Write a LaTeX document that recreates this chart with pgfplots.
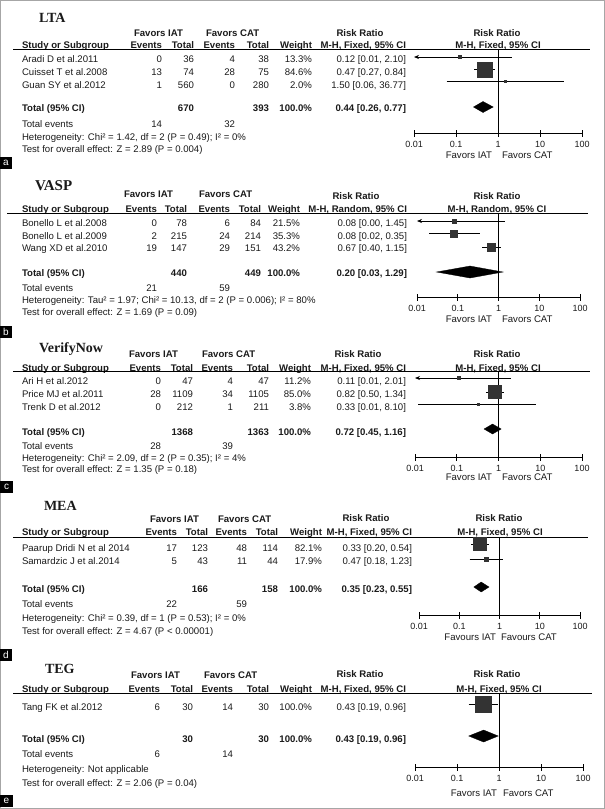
\documentclass[border=0pt]{standalone}
\usepackage{fontspec}
\setmainfont{Liberation Sans}
\newfontfamily\serifttl{Liberation Serif}
\usepackage{pgfplots}
\pgfplotsset{compat=1.18}
\usetikzlibrary{arrows.meta}

\definecolor{txt}{HTML}{1A1A1A}
\definecolor{boxc}{HTML}{333333}

\newcommand\fs{\fontsize{9.6bp}{11bp}\selectfont}
\newcommand\ttl{\serifttl\bfseries\fontsize{14bp}{16bp}\selectfont}

% text helpers: x, y (vertical centre of the line in px), text
\newcommand\tl[3]{\node[anchor=base west] at (#1,#2+3.4) {#3};}
\newcommand\tr[3]{\node[anchor=base east] at (#1,#2+3.4) {#3};}
\newcommand\tc[3]{\node[anchor=base] at (#1,#2+3.4) {#3};}

\def\cS{22}
\newcommand\setcols[6]{\def\cEa{#1}\def\cTa{#2}\def\cEb{#3}\def\cTb{#4}\def\cW{#5}\def\cCI{#6}}
\newcommand\row[8]{\tl{\cS}{#1}{#2}\tr{\cEa}{#1}{#3}\tr{\cTa}{#1}{#4}\tr{\cEb}{#1}{#5}%
  \tr{\cTb}{#1}{#6}\tr{\cW}{#1}{#7}\tr{\cCI}{#1}{#8}}
\newcommand\hdr[3]{\row{#1}{\bfseries Study or Subgroup}{\bfseries Events}{\bfseries Total}%
  {\bfseries Events}{\bfseries Total}{\bfseries Weight}{\bfseries #2}\tc{#3}{#1}{\bfseries #2}}
\newcommand\plabel[3]{\fill[black] (0,#2) rectangle (#3,#2+12);
  \node[text=white, font=\fontsize{10bp}{11bp}\selectfont] at (#3/2,#2+6) {#1};}

\tikzset{
  px/.style={x=1bp, y=-1bp},
  rrci/.style={black, line width=0.7bp},
  rrref/.style={black, line width=0.9bp},
  rrbox/.style={only marks, mark=square*, mark options={fill=boxc, draw=boxc}},
  rrdiam/.style={fill=black, draw=black, line width=0.3bp},
  rrarr/.style={rrci, arrows={Stealth[length=5bp, width=4bp]-}},
}
\pgfplotsset{rraxis/.style={
  scale only axis, anchor=south west, clip=false,
  xmin=0.01, xmax=100,
  axis x line=bottom, axis y line=none, ytick=\empty,
  axis line style={-, black, line width=0.8bp},
  xtick={0.01,0.1,1,10,100}, xticklabels={0.01,0.1,1,10,100}, xminorticks=false,
  tick align=center, major tick length=7bp, tick style={black, line width=0.8bp},
  xticklabel style={font=\fontsize{9bp}{10bp}\selectfont, text=txt, inner sep=0pt,
    anchor=north, yshift=-5bp},
}}

\begin{document}
\begin{tikzpicture}[every node/.style={inner sep=0pt, outer sep=0pt, text=txt, font=\fs}]
\begin{scope}[px]
\useasboundingbox (0,0) rectangle (605,809);
\draw[gray!70, line width=1.2bp] (0.6,0.6) rectangle (604.4,808.4);

% ===== a: LTA
\node[anchor=base west, font=\ttl] at (39,23) {LTA};
\tl{134}{33}{\bfseries Favors IAT}\tl{206}{33}{\bfseries Favors CAT}
\tc{360}{33}{\bfseries Risk Ratio}\tc{497}{33}{\bfseries Risk Ratio}
\setcols{162}{194}{235}{269}{312}{406}
\hdr{45}{M-H, Fixed, 95\% CI}{498}
\draw[line width=1bp, black] (13,50) -- (590,50);
\row{59}{Aradi D et al.2011}{0}{36}{4}{38}{13.3\%}{0.12 [0.01, 2.10]}
\row{72}{Cuisset T et al.2008}{13}{74}{28}{75}{84.6\%}{0.47 [0.27, 0.84]}
\row{85}{Guan SY et al.2012}{1}{560}{0}{280}{2.0\%}{1.50 [0.06, 36.77]}
\row{108}{\bfseries Total (95\% CI)}{}{\bfseries 670}{}{\bfseries 393}{\bfseries 100.0\%}{\bfseries 0.44 [0.26, 0.77]}
\row{124}{Total events}{14}{}{32}{}{}{}
\tl{\cS}{137}{Heterogeneity: Chi² = 1.42, df = 2 (P = 0.49); I² = 0\%}
\tl{\cS}{149}{Test for overall effect: Z = 2.89 (P = 0.004)}
\tr{492}{155}{Favors IAT}\tl{502}{155}{Favors CAT}
\plabel{a}{157}{12}

% ===== b: VASP
\node[anchor=base west, font=\ttl\fontsize{15bp}{17bp}\selectfont] at (35,190) {VASP};
\tl{124}{194}{\bfseries Favors IAT}\tl{199}{194}{\bfseries Favors CAT}
\tc{356}{196}{\bfseries Risk Ratio}\tc{497}{196}{\bfseries Risk Ratio}
\setcols{157}{187}{230}{261}{300}{407}
\hdr{209}{M-H, Random, 95\% CI}{497}
\draw[line width=1bp, black] (7,213) -- (588,213);
\row{223}{Bonello L et al.2008}{0}{78}{6}{84}{21.5\%}{0.08 [0.00, 1.45]}
\row{236}{Bonello L et al.2009}{2}{215}{24}{214}{35.3\%}{0.08 [0.02, 0.35]}
\row{248}{Wang XD et al.2010}{19}{147}{29}{151}{43.2\%}{0.67 [0.40, 1.15]}
\row{273}{\bfseries Total (95\% CI)}{}{\bfseries 440}{}{\bfseries 449}{\bfseries 100.0\%}{\bfseries 0.20 [0.03, 1.29]}
\row{288}{Total events}{21}{}{59}{}{}{}
\tl{\cS}{300}{Heterogeneity: Tau² = 1.97; Chi² = 10.13, df = 2 (P = 0.006); I² = 80\%}
\tl{\cS}{312}{Test for overall effect: Z = 1.69 (P = 0.09)}
\tr{492}{319}{Favors IAT}\tl{502}{319}{Favors CAT}
\plabel{b}{326}{12}

% ===== c: VerifyNow
\node[anchor=base west, font=\ttl] at (39,352) {VerifyNow};
\tl{129}{354}{\bfseries Favors IAT}\tl{202}{354}{\bfseries Favors CAT}
\tc{358}{354}{\bfseries Risk Ratio}\tc{497}{354}{\bfseries Risk Ratio}
\setcols{161}{193}{233}{269}{311}{406}
\hdr{368}{M-H, Fixed, 95\% CI}{498}
\draw[line width=1bp, black] (13,371) -- (590,371);
\row{381}{Ari H et al.2012}{0}{47}{4}{47}{11.2\%}{0.11 [0.01, 2.01]}
\row{394}{Price MJ et al.2011}{28}{1109}{34}{1105}{85.0\%}{0.82 [0.50, 1.34]}
\row{407}{Trenk D et al.2012}{0}{212}{1}{211}{3.8\%}{0.33 [0.01, 8.10]}
\row{432}{\bfseries Total (95\% CI)}{}{\bfseries 1368}{}{\bfseries 1363}{\bfseries 100.0\%}{\bfseries 0.72 [0.45, 1.16]}
\row{446}{Total events}{28}{}{39}{}{}{}
\tl{\cS}{458}{Heterogeneity: Chi² = 2.09, df = 2 (P = 0.35); I² = 4\%}
\tl{\cS}{469}{Test for overall effect: Z = 1.35 (P = 0.18)}
\tr{492}{477}{Favors IAT}\tl{502}{477}{Favors CAT}
\plabel{c}{481}{13}

% ===== d: MEA
\node[anchor=base west, font=\ttl] at (44,510) {MEA};
\tl{150}{519}{\bfseries Favors IAT}\tl{218}{519}{\bfseries Favors CAT}
\tc{366}{518}{\bfseries Risk Ratio}\tc{499}{518}{\bfseries Risk Ratio}
\setcols{177}{208}{247}{278}{322}{412}
\hdr{532}{M-H, Fixed, 95\% CI}{500}
\draw[line width=1bp, black] (13,537) -- (588,537);
\row{548}{Paarup Dridi N et al 2014}{17}{123}{48}{114}{82.1\%}{0.33 [0.20, 0.54]}
\row{561}{Samardzic J et al.2014}{5}{43}{11}{44}{17.9\%}{0.47 [0.18, 1.23]}
\row{589}{\bfseries Total (95\% CI)}{}{\bfseries 166}{}{\bfseries 158}{\bfseries 100.0\%}{\bfseries 0.35 [0.23, 0.55]}
\row{604}{Total events}{22}{}{59}{}{}{}
\tl{\cS}{618}{Heterogeneity: Chi² = 0.39, df = 1 (P = 0.53); I² = 0\%}
\tl{\cS}{631}{Test for overall effect: Z = 4.67 (P < 0.00001)}
\tr{496}{637}{Favours IAT}\tl{501}{637}{Favours CAT}
\plabel{d}{649}{12}

% ===== e: TEG
\node[anchor=base west, font=\ttl] at (45,673) {TEG};
\tl{131}{675}{\bfseries Favors IAT}\tl{204}{675}{\bfseries Favors CAT}
\tc{360}{674}{\bfseries Risk Ratio}\tc{497}{674}{\bfseries Risk Ratio}
\setcols{160}{193}{233}{269}{312}{406}
\hdr{689}{M-H, Fixed, 95\% CI}{499}
\draw[line width=1bp, black] (13,693) -- (592,693);
\row{707}{Tang FK et al.2012}{6}{30}{14}{30}{100.0\%}{0.43 [0.19, 0.96]}
\row{739}{\bfseries Total (95\% CI)}{}{\bfseries 30}{}{\bfseries 30}{\bfseries 100.0\%}{\bfseries 0.43 [0.19, 0.96]}
\row{754}{Total events}{6}{}{14}{}{}{}
\tl{\cS}{769}{Heterogeneity: Not applicable}
\tl{\cS}{783}{Test for overall effect: Z = 2.06 (P = 0.04)}
\tr{497}{793}{Favors IAT}\tl{503}{793}{Favors CAT}
\plabel{e}{795}{13}
\end{scope}

% ----- forest plots (x: risk ratio, y: row position in px from the top, negated)
\begin{semilogxaxis}[rraxis, at={(414bp,-133bp)}, width=168bp, height=83bp, ymin=-133, ymax=-50]
  \addplot[rrref] coordinates {(1,-50) (1,-133)};
  \addplot[rrarr] coordinates {(0.01,-57) (2.10,-57)};
  \addplot[rrbox, mark size=1.6] coordinates {(0.12,-57)};
  \addplot[rrci] coordinates {(0.27,-69.5) (0.84,-69.5)};
  \addplot[rrbox, mark size=7.5] coordinates {(0.47,-69.5)};
  \addplot[rrci] coordinates {(0.06,-81.5) (36.77,-81.5)};
  \addplot[rrbox, mark size=1] coordinates {(1.50,-81.5)};
  \addplot[rrdiam] coordinates {(0.26,-107) (0.44,-101.5) (0.77,-107) (0.44,-112.5)} --cycle;
\end{semilogxaxis}

\begin{semilogxaxis}[rraxis, at={(417bp,-297bp)}, width=163bp, height=84bp, ymin=-297, ymax=-213]
  \addplot[rrref] coordinates {(1,-213) (1,-297)};
  \addplot[rrarr] coordinates {(0.01,-221) (1.45,-221)};
  \addplot[rrbox, mark size=2] coordinates {(0.08,-221)};
  \addplot[rrci] coordinates {(0.02,-233.5) (0.35,-233.5)};
  \addplot[rrbox, mark size=3.5] coordinates {(0.08,-233.5)};
  \addplot[rrci] coordinates {(0.40,-247) (1.15,-247)};
  \addplot[rrbox, mark size=4] coordinates {(0.67,-247)};
  \addplot[rrdiam] coordinates {(0.03,-272) (0.20,-266) (1.29,-272) (0.20,-278)} --cycle;
\end{semilogxaxis}

\begin{semilogxaxis}[rraxis, at={(415bp,-457bp)}, width=167bp, height=86bp, ymin=-457, ymax=-371]
  \addplot[rrref] coordinates {(1,-371) (1,-457)};
  \addplot[rrarr] coordinates {(0.01,-378) (2.01,-378)};
  \addplot[rrbox, mark size=1.6] coordinates {(0.11,-378)};
  \addplot[rrci] coordinates {(0.50,-392) (1.34,-392)};
  \addplot[rrbox, mark size=6.5] coordinates {(0.82,-392)};
  \addplot[rrci] coordinates {(0.012,-404) (8.10,-404)};
  \addplot[rrbox, mark size=1.2] coordinates {(0.33,-404)};
  \addplot[rrdiam] coordinates {(0.45,-429) (0.72,-424) (1.16,-429) (0.72,-434)} --cycle;
\end{semilogxaxis}

\begin{semilogxaxis}[rraxis, at={(419bp,-615bp)}, width=161bp, height=78bp, ymin=-615, ymax=-537]
  \addplot[rrref] coordinates {(1,-537) (1,-615)};
  \addplot[rrci] coordinates {(0.20,-544) (0.54,-544)};
  \addplot[rrbox, mark size=6.5] coordinates {(0.33,-544)};
  \addplot[rrci] coordinates {(0.18,-559) (1.23,-559)};
  \addplot[rrbox, mark size=2] coordinates {(0.47,-559)};
  \addplot[rrdiam] coordinates {(0.23,-587) (0.35,-582) (0.55,-587) (0.35,-592)} --cycle;
\end{semilogxaxis}

\begin{semilogxaxis}[rraxis, at={(415bp,-767bp)}, width=168bp, height=74bp, ymin=-767, ymax=-693]
  \addplot[rrref] coordinates {(1,-693) (1,-767)};
  \addplot[rrci] coordinates {(0.19,-704.5) (0.96,-704.5)};
  \addplot[rrbox, mark size=8] coordinates {(0.43,-704.5)};
  \addplot[rrdiam] coordinates {(0.19,-736) (0.43,-730) (0.96,-736) (0.43,-742)} --cycle;
\end{semilogxaxis}
\end{tikzpicture}
\end{document}
